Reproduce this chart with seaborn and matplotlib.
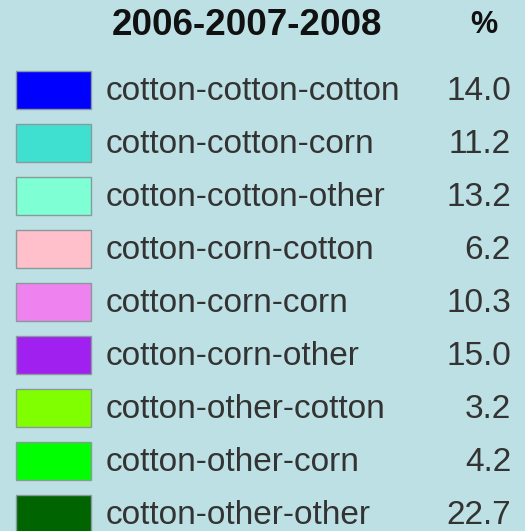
import matplotlib
matplotlib.use("Agg")
import matplotlib.pyplot as plt
import seaborn as sns

title = "2006-2007-2008"
pct_header = "%"
sequences = ["cotton-cotton-cotton", "cotton-cotton-corn", "cotton-cotton-other",
             "cotton-corn-cotton", "cotton-corn-corn", "cotton-corn-other",
             "cotton-other-cotton", "cotton-other-corn", "cotton-other-other"]
percents = [14.0, 11.2, 13.2, 6.2, 10.3, 15.0, 3.2, 4.2, 22.7]
colors = ["#0000ff", "#40e0d0", "#7fffd4", "#ffc0cb", "#ee82ee",
          "#a020f0", "#7fff00", "#00ff00", "#006400"]

sns.set_theme(style="white")
plt.rcParams['font.family'] = ['Liberation Sans', 'DejaVu Sans']

fig = plt.figure(figsize=(5.25, 5.31), dpi=100)
fig.patch.set_facecolor("#bce0e4")
ax = fig.add_axes([0, 0, 1, 1])
ax.set_facecolor("#bce0e4")

rows = list(range(len(sequences)))
ax.barh(rows, [75] * len(rows), left=16, height=0.70, color=colors,
        edgecolor="#8a9a9c", linewidth=1)

for i, (name, p) in enumerate(zip(sequences, percents)):
    ax.text(106, i + 0.03, name, ha="left", va="center", fontsize=24,
            color="#333333")
    ax.text(511, i + 0.03, f"{p:.1f}", ha="right", va="center", fontsize=24,
            color="#333333")

ax.text(247, -1.22, title, ha="center", va="center", fontsize=26.5,
        fontweight="bold", color="#111111")
ax.text(484, -1.22, pct_header, ha="center", va="center", fontsize=22,
        fontweight="bold", color="#111111")

ax.set_xlim(0, 525)
ax.set_ylim((531 - 90) / 53, -90 / 53)
ax.axis("off")

fig.savefig("out.png", dpi=100, facecolor=fig.get_facecolor())
